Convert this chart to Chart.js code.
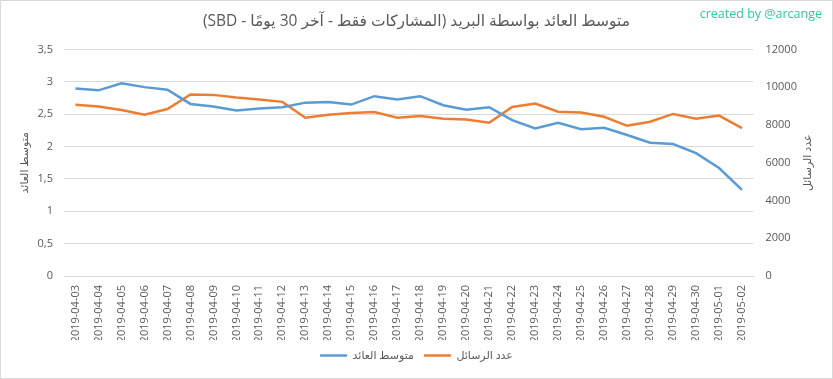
<!DOCTYPE html>
<html>
<head>
<meta charset="utf-8">
<script src="https://cdn.jsdelivr.net/npm/chart.js@4/dist/chart.umd.min.js"></script>
<style>
  html, body { margin: 0; padding: 0; background: #fff; }
  #wrap { position: absolute; left: 0; top: 0; width: 833px; height: 379px; box-sizing: border-box; border: 1px solid #d9d9d9; background: #fff; }
  canvas { display: block; }
</style>
</head>
<body>
<div id="wrap"><canvas id="c" width="831" height="377" dir="rtl"></canvas></div>
<script>
const categories = ["2019-04-03","2019-04-04","2019-04-05","2019-04-06","2019-04-07","2019-04-08","2019-04-09","2019-04-10","2019-04-11","2019-04-12","2019-04-13","2019-04-14","2019-04-15","2019-04-16","2019-04-17","2019-04-18","2019-04-19","2019-04-20","2019-04-21","2019-04-22","2019-04-23","2019-04-24","2019-04-25","2019-04-26","2019-04-27","2019-04-28","2019-04-29","2019-04-30","2019-05-01","2019-05-02"];
const avgReturn = [2.90, 2.87, 2.98, 2.92, 2.88, 2.66, 2.62, 2.56, 2.59, 2.61, 2.68, 2.69, 2.65, 2.78, 2.73, 2.78, 2.64, 2.57, 2.61, 2.41, 2.28, 2.37, 2.27, 2.29, 2.18, 2.06, 2.04, 1.90, 1.67, 1.33];
const msgCount = [9080, 8980, 8800, 8550, 8850, 9620, 9600, 9460, 9350, 9230, 8390, 8550, 8640, 8690, 8390, 8480, 8340, 8300, 8120, 8960, 9140, 8710, 8660, 8440, 7960, 8180, 8590, 8340, 8500, 7840];
const leftTicks = [0, 0.5, 1, 1.5, 2, 2.5, 3, 3.5];
const rightTicks = [0, 2000, 4000, 6000, 8000, 10000, 12000];
const seriesNames = ["متوسط العائد", "عدد الرسائل"];
const chartTitle = "متوسط العائد بواسطة البريد (المشاركات فقط - آخر 30 يومًا - SBD)";
const creditText = "created by @arcange";

const FONT = "'Open Sans', 'DejaVu Sans', sans-serif";
const GREY = '#595959';

const extras = {
  id: 'extras',
  beforeDraw(chart) { chart.ctx.direction = 'rtl'; },
  afterDraw(chart) {
    const ctx = chart.ctx;
    const a = chart.chartArea;
    ctx.save();
    ctx.direction = 'ltr';
    ctx.font = '12.5px ' + FONT;
    ctx.fillStyle = '#2fcb9c';
    ctx.textAlign = 'right';
    ctx.textBaseline = 'middle';
    ctx.fillText(creditText, 821, 13);
    ctx.restore();
    ctx.save();
    ctx.font = '11px ' + FONT;
    ctx.fillStyle = GREY;
    ctx.textAlign = 'center';
    ctx.textBaseline = 'middle';
    ctx.translate(807, (a.top + a.bottom) / 2);
    ctx.rotate(-Math.PI / 2);
    ctx.fillText(seriesNames[1], 0, 0);
    ctx.restore();
  }
};

new Chart(document.getElementById('c'), {
  type: 'line',
  data: {
    labels: categories,
    datasets: [
      { label: seriesNames[0], data: avgReturn, yAxisID: 'y', borderColor: '#5b9bd5', backgroundColor: '#5b9bd5', borderWidth: 2.5, pointRadius: 0, tension: 0 },
      { label: seriesNames[1], data: msgCount, yAxisID: 'y1', borderColor: '#ed7d31', backgroundColor: '#ed7d31', borderWidth: 2.5, pointRadius: 0, tension: 0 }
    ]
  },
  options: {
    responsive: false,
    animation: false,
    layout: { padding: { left: 0, right: 0, top: 0, bottom: 7 } },
    plugins: {
      tooltip: { enabled: false },
      title: {
        display: true, text: chartTitle, color: GREY,
        font: { family: FONT, size: 15.5, weight: 'normal' },
        padding: { top: 11, bottom: 19 }
      },
      legend: {
        position: 'bottom',
        labels: {
          color: GREY, font: { family: FONT, size: 11 },
          usePointStyle: true, pointStyle: 'line', pointStyleWidth: 27,
          boxHeight: 11, padding: 10
        }
      }
    },
    scales: {
      x: {
        offset: true,
        grid: { display: false, drawTicks: false },
        border: { display: true, color: '#d9d9d9' },
        ticks: { color: GREY, font: { family: FONT, size: 11 }, minRotation: 90, maxRotation: 90, autoSkip: false, padding: 9 },
        afterFit(s) { s.height = 64; }
      },
      y: {
        position: 'left', min: 0, max: 3.5,
        afterBuildTicks(s) { s.ticks = leftTicks.map(v => ({ value: v })); },
        grid: { color: '#d9d9d9', drawTicks: false },
        border: { display: false },
        ticks: { color: GREY, font: { family: FONT, size: 11 }, padding: 11,
          callback: v => String(v).replace('.', ',') },
        title: { display: true, text: seriesNames[0], color: GREY, font: { family: FONT, size: 11 }, padding: { top: 17, bottom: 0 } },
        afterFit(s) { s.width = 63; }
      },
      y1: {
        position: 'right', min: 0, max: 12000,
        afterBuildTicks(s) { s.ticks = rightTicks.map(v => ({ value: v })); },
        grid: { display: false, drawTicks: false },
        border: { display: false },
        ticks: { color: GREY, font: { family: FONT, size: 11 }, padding: 12,
          callback: v => String(v) },
        afterFit(s) { s.width = 78.5; }
      }
    }
  },
  plugins: [extras]
});
</script>
</body>
</html>
